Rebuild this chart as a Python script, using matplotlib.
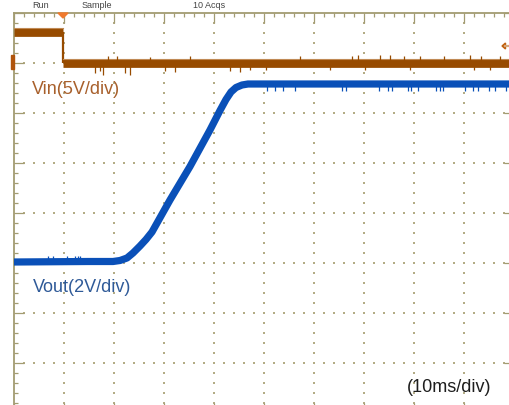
import matplotlib
matplotlib.use('Agg')
import matplotlib.pyplot as plt
from matplotlib.ticker import MultipleLocator
from matplotlib.patches import Polygon, Rectangle
import numpy as np

# ---- data (time in ms, 10 ms/div; level in screen divisions from bottom) ----
vin_t = [0.0, 9.8, 9.8, 100.0]
vin_v = [7.63, 7.63, 7.01, 7.01]

vout_t = [0.0, 14.8, 19.8, 21.2, 22.6, 23.8, 25.2, 26.4, 27.6, 31.2, 35.2,
          39.2, 41.2, 42.4, 43.4, 44.4, 45.6, 46.8, 100.0]
vout_v = [3.02, 3.03, 3.03, 3.05, 3.10, 3.20, 3.34, 3.47, 3.62, 4.26, 4.93,
          5.66, 6.05, 6.27, 6.42, 6.51, 6.56, 6.58, 6.58]

# noise spikes on Vin low level (time, tip offset from level in div)
vin_spk_t = [16.2, 17.2, 17.8, 18.8, 20.6, 22.2, 23.2, 27.2, 30.2, 32.2, 35.2,
             43.2, 45.2, 47.2, 50.4, 57.2, 63.2, 67.6, 68.8, 70.2, 73.2, 75.2,
             78.0, 79.2, 81.2, 86.0, 91.2, 92.0, 93.4, 95.2, 97.2]
vin_spk_d = [-0.20, -0.16, -0.24, 0.14, 0.14, -0.20, -0.24, 0.12, -0.16, -0.18,
             0.14, -0.16, -0.18, -0.14, -0.14, 0.14, -0.14, 0.14, 0.16, -0.14,
             0.16, 0.16, 0.14, -0.14, 0.14, 0.14, 0.16, -0.14, 0.14, -0.14, 0.14]
# noise spikes on Vout
vout_spk_t = [6.8, 7.8, 10.6, 12.2, 12.8, 13.2, 50.6, 52.2, 53.8, 56.2, 65.6,
              66.4, 73.0, 74.8, 75.6, 78.8, 79.4, 80.8, 84.4, 85.2, 85.8, 90.2,
              91.8, 92.8, 95.0, 96.2, 98.4]
vout_spk_d = [0.11, 0.11, 0.11, 0.11, 0.11, 0.11, -0.13, -0.13, -0.13, -0.13,
              -0.13, -0.13, -0.13, -0.13, -0.13, -0.13, -0.13, -0.13, -0.13,
              -0.13, -0.13, -0.13, -0.13, -0.13, -0.13, -0.13, -0.13]

vin_label = 'Vin(5V/div)'
vout_label = 'Vout(2V/div)'
time_label = '(10ms/div)'
status_texts = [('Run', 32), ('Sample', 82), ('10 Acqs', 193)]

# ---- styles ----
W, H = 510, 405
olive = '#A39C72'
dotc = '#B3AC86'
vin_c = '#974B00'
vout_c = '#0A50B8'
font = ['Liberation Sans', 'DejaVu Sans']

fig = plt.figure(figsize=(W / 100, H / 100), dpi=100)
fig.patch.set_facecolor('white')
ax = fig.add_axes([14 / W, (H - 413) / H, 500 / W, 400 / H])
ax.set_xlim(0, 100)
ax.set_ylim(0, 8)
ax.set_facecolor('white')

for s in ax.spines.values():
    s.set_color(olive)
    s.set_linewidth(1.3)
ax.xaxis.set_major_locator(MultipleLocator(10))
ax.xaxis.set_minor_locator(MultipleLocator(2))
ax.yaxis.set_major_locator(MultipleLocator(1))
ax.yaxis.set_minor_locator(MultipleLocator(0.2))
ax.tick_params(which='both', direction='in', top=True, right=True,
               bottom=True, left=True, labelbottom=False, labelleft=False,
               color=olive, width=0.9)
ax.tick_params(which='major', length=7.5)
ax.tick_params(which='minor', length=3)

# dotted graticule
for k in range(1, 10):
    yy = np.arange(0.2, 8.0, 0.2)
    ax.scatter(np.full_like(yy, 10 * k), yy, s=1.6, marker='s', color=dotc,
               linewidths=0, zorder=1)
for k in range(1, 8):
    xx = np.arange(2, 100, 2)
    ax.scatter(xx, np.full_like(xx, k, dtype=float), s=1.6, marker='s',
               color=dotc, linewidths=0, zorder=1)

# Vin trace
widths = [6.3, 1.6, 6.3]
for i in range(3):
    ax.plot(vin_t[i:i + 2], vin_v[i:i + 2], color=vin_c, lw=widths[i],
            solid_capstyle='butt', zorder=3, clip_on=False)
ax.plot([vin_t[0], vin_t[1]], [vin_v[0] + 0.075, vin_v[1] + 0.075],
        color='#C08A55', lw=0.8, zorder=3)
ax.plot([vin_t[2], vin_t[3]], [vin_v[2] + 0.075, vin_v[3] + 0.075],
        color='#C08A55', lw=0.8, zorder=3)
ax.vlines(vin_spk_t, vin_v[2], [vin_v[2] + d for d in vin_spk_d],
          color=vin_c, lw=0.9, zorder=3)

# Vout trace
ax.plot(vout_t, vout_v, color=vout_c, lw=5.2, solid_capstyle='butt',
        solid_joinstyle='round', zorder=4, clip_on=False)
base = np.interp(vout_spk_t, vout_t, vout_v)
ax.vlines(vout_spk_t, base, base + np.array(vout_spk_d), color=vout_c,
          lw=0.9, zorder=4)

# trigger marker (top), channel ground marker (left), trigger level arrow (right)
ax.add_patch(Polygon([[8.8, 8.0], [10.8, 8.0], [9.8, 7.9]], closed=True,
                     color='#F07A2E', clip_on=False, zorder=6))
ax.add_patch(Rectangle((-0.6, 6.88), 0.6, 0.28, color='#B0540C',
                       clip_on=False, zorder=6))
ax.add_patch(Polygon([[97.6, 7.34], [98.3, 7.40], [98.3, 7.28]], closed=True,
                     color='#C0600E', zorder=6, clip_on=False))
ax.plot([98.3, 99.4], [7.34, 7.34], color='#D6A678', lw=1.6, zorder=6,
        clip_on=False)

# labels
fig.text(32 / W, 1 - 90 / H, vin_label, fontsize=13, family=font,
         color='#A8602C', ha='left', va='center')
fig.text(33 / W, 1 - 288 / H, vout_label, fontsize=13, family=font,
         color='#2F5A98', ha='left', va='center')
fig.text(407 / W, 1 - 388 / H, time_label, fontsize=13, family=font,
         color='#1E1E1E', ha='left', va='center')
for txt, xp in status_texts:
    fig.text(xp / W, 1 - 7.5 / H, txt, fontsize=6.5, family=font,
             color='#444444', ha='left', va='baseline')

fig.savefig('out.png', dpi=100, facecolor='white')
